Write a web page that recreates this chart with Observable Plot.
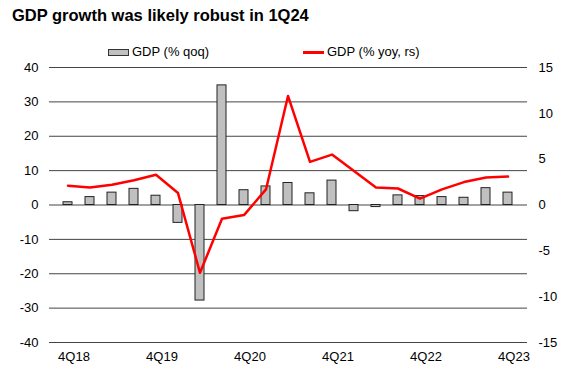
<!DOCTYPE html>
<html>
<head>
<meta charset="utf-8">
<script src="https://cdn.jsdelivr.net/npm/d3@7"></script>
<script src="https://cdn.jsdelivr.net/npm/@observablehq/plot@0.6"></script>
<style>
  html, body { margin: 0; padding: 0; background: #fff; }
  body { width: 574px; height: 372px; position: relative; overflow: hidden; font-family: "Liberation Sans", Arial, sans-serif; }
  #title { position: absolute; left: 12px; top: 6px; font-size: 16.5px; font-weight: bold; color: #000; white-space: nowrap; }
  .leg { position: absolute; top: 44px; font-size: 13px; color: #000; white-space: nowrap; line-height: 16px; }
  .sw { display: inline-block; vertical-align: middle; }
  #chart { position: absolute; left: 0; top: 60px; }
</style>
</head>
<body>
<div id="title">GDP growth was likely robust in 1Q24</div>
<div class="leg" style="left:108px"><span class="sw" style="width:19px;height:5px;background:#c0c0c0;border:1px solid #333;margin-right:3px;"></span>GDP (% qoq)</div>
<div class="leg" style="left:303px"><span class="sw" style="width:21px;height:3px;background:#ff0000;margin-right:3px;"></span>GDP (% yoy, rs)</div>
<div id="chart"></div>
<script>
const quarters = ["4Q18","1Q19","2Q19","3Q19","4Q19","1Q20","2Q20","3Q20","4Q20","1Q21","2Q21","3Q21","4Q21","1Q22","2Q22","3Q22","4Q22","1Q23","2Q23","3Q23","4Q23"];
const gdpQoq = [0.8, 2.3, 3.6, 4.7, 2.7, -5.2, -27.8, 34.8, 4.3, 5.4, 6.4, 3.4, 7.1, -1.8, -0.6, 2.8, 2.6, 2.3, 2.1, 4.9, 3.6];
const gdpYoy = [2.1, 1.9, 2.2, 2.7, 3.3, 1.3, -7.4, -1.5, -1.1, 1.7, 11.9, 4.7, 5.5, 3.7, 1.9, 1.8, 0.7, 1.7, 2.5, 3.0, 3.1];
const leftTicks = [-40, -30, -20, -10, 0, 10, 20, 30, 40];
const rightTicks = [-15, -10, -5, 0, 5, 10, 15];
const xLabels = ["4Q18","4Q19","4Q20","4Q21","4Q22","4Q23"];

const ratio = 40 / 15;
const bars = quarters.map((q, i) => ({q, v: gdpQoq[i]}));
const line = quarters.map((q, i) => ({q, v: gdpYoy[i] * ratio}));

const chart = Plot.plot({
  width: 574,
  height: 312,
  marginLeft: 49,
  marginRight: 47,
  marginTop: 7,
  marginBottom: 30,
  style: { fontFamily: "'Liberation Sans', Arial, sans-serif", fontSize: "13px", color: "#000", background: "#fff" },
  x: { type: "band", domain: quarters, paddingInner: 0.58, paddingOuter: 0.29 },
  y: { domain: [-40, 40] },
  marks: [
    Plot.ruleY(leftTicks, { stroke: "#444", strokeWidth: 1 }),
    Plot.barY(bars, { x: "q", y: "v", fill: "#c0c0c0", stroke: "#222", strokeWidth: 1 }),
    Plot.line(line, { x: "q", y: "v", stroke: "#ff0000", strokeWidth: 2.5 }),
    Plot.axisY({ anchor: "left", ticks: leftTicks, tickFormat: d => String(d), tickSize: 0, tickPadding: 11, label: null, fontSize: 13 }),
    Plot.axisY({ anchor: "right", ticks: rightTicks.map(v => v * ratio), tickFormat: d => String(Math.round(d / ratio)), tickSize: 0, tickPadding: 11, label: null, fontSize: 13 }),
    Plot.axisX({ ticks: xLabels, tickSize: 0, tickPadding: 9, dx: 6, label: null, fontSize: 13 })
  ]
});
document.getElementById("chart").appendChild(chart);
</script>
</body>
</html>
